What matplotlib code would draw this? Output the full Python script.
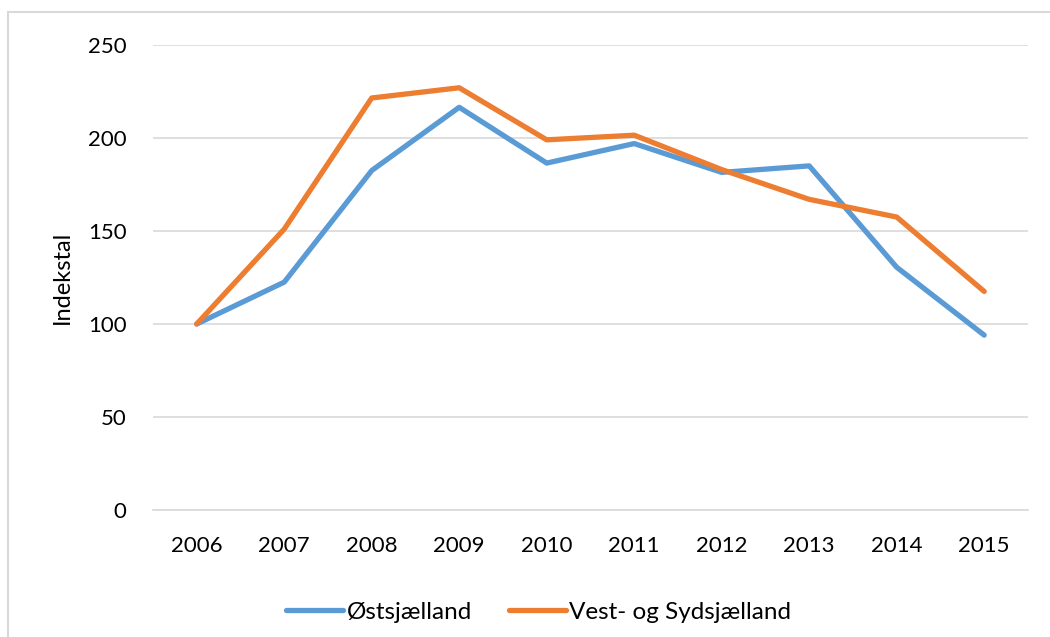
import matplotlib.pyplot as plt
from matplotlib.patches import Rectangle

years = [2006, 2007, 2008, 2009, 2010, 2011, 2012, 2013, 2014, 2015]
oest = [100, 122.5, 182.5, 216.5, 186.5, 197, 181.5, 185, 130.5, 94]
vest = [100, 151, 221.5, 227, 199, 201.5, 183, 167, 157.5, 117.5]

plt.rcParams['font.family'] = ['Lato', 'DejaVu Sans']

fig = plt.figure(figsize=(10.5, 6.37), dpi=100)
ax = fig.add_axes([0.1457, 0.1994, 0.8333, 0.73])

# chart border (only left and top visible in the crop)
fig.patches.append(Rectangle((8 / 1050, -0.1), 1.2, 1 - 12 / 637 + 0.1,
                             transform=fig.transFigure, fill=False,
                             edgecolor='#d9d9d9', linewidth=1.5))

ax.plot(years, oest, color='#5B9BD5', linewidth=3.8, solid_capstyle='round',
        label='Østsjælland')
ax.plot(years, vest, color='#ED7D31', linewidth=3.8, solid_capstyle='round',
        label='Vest- og Sydsjælland')

ax.set_xlim(2005.5, 2015.5)
ax.set_ylim(0, 250)
ax.set_yticks(range(0, 251, 50))
ax.set_xticks(years)
ax.grid(axis='y', color='#d9d9d9', linewidth=1.2)
ax.set_axisbelow(True)
for s in ['top', 'right', 'left']:
    ax.spines[s].set_visible(False)
ax.spines['bottom'].set_color('#d9d9d9')
ax.spines['bottom'].set_linewidth(1.2)
ax.tick_params(length=0, labelsize=16, colors='black')
ax.tick_params(axis='y', pad=19)
ax.tick_params(axis='x', pad=19)
ax.set_ylabel('Indekstal', fontsize=17, labelpad=11)

ax.legend(loc='upper center', bbox_to_anchor=(0.441, -0.15), ncol=2, frameon=False,
          fontsize=17.5, handlelength=2.35, handletextpad=0.15, columnspacing=1.5)

fig.savefig('out.png', dpi=100)
